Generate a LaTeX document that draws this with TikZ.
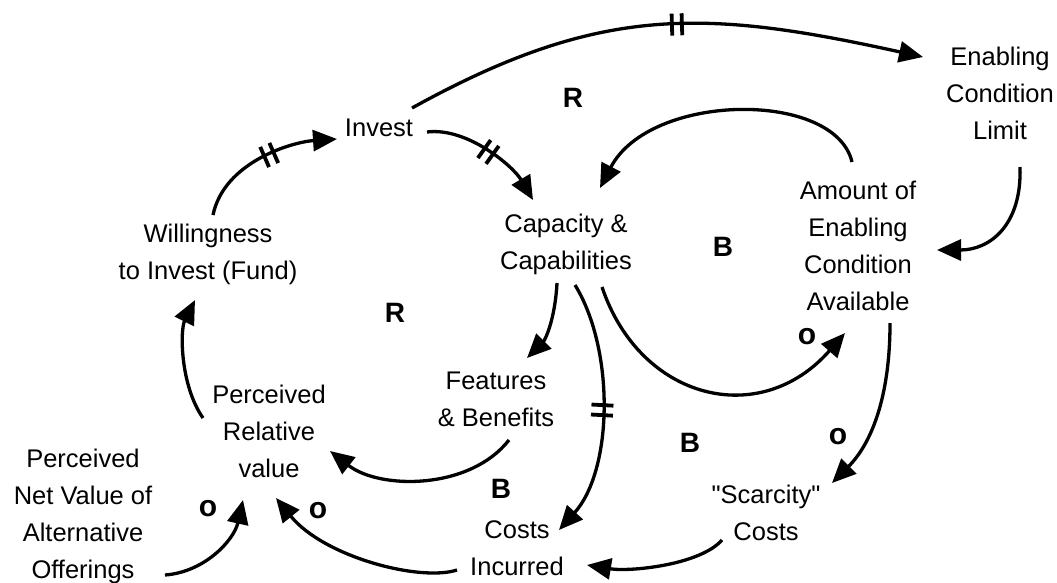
\documentclass[tikz,border=0pt]{standalone}
\usepackage{fontspec}
\setmainfont{Liberation Sans}[Ligatures=TeXOff]
\usetikzlibrary{arrows.meta,decorations.markings}
\tikzset{
  lbl/.style={align=center, inner sep=0pt, anchor=north, font=\fontsize{25.5}{37}\selectfont},
  loopname/.style={inner sep=0pt, font=\fontsize{28}{30}\selectfont\bfseries},
  polar/.style={inner sep=0pt, font=\fontsize{30}{32}\selectfont\bfseries},
  link/.style={line width=3.3pt, -{Triangle[length=24pt,width=21pt]}},
  delay at/.style={postaction={decorate, decoration={markings,
      mark=at position #1 with {\draw[line width=3.8pt,-] (-5,-11) -- (-5,11) (5,-11) -- (5,11);}}}},
}
\begin{document}
\begin{tikzpicture}[x=1pt,y=-1pt]
\useasboundingbox (0,0) rectangle (1057,582);
% variables
\node[lbl] (invest) at (379,119) {Invest};
\node[lbl] (will) at (208,224) {Willingness\\to Invest (Fund)};
\node[lbl] (cap) at (566,214) {Capacity \&\\Capabilities};
\node[lbl] (limit) at (1000,47) {Enabling\\Condition\\Limit};
\node[lbl] (amount) at (858,181) {Amount of\\Enabling\\Condition\\Available};
\node[lbl] (feat) at (496,372) {Features\\\& Benefits};
\node[lbl] (prv) at (269,385) {Perceived\\Relative\\value};
\node[lbl] (alt) at (83,449) {Perceived\\Net Value of\\Alternative\\Offerings};
\node[lbl] (costs) at (517,520) {Costs\\Incurred};
\node[lbl] (scar) at (766,485) {"Scarcity"\\Costs};
% loop and polarity labels
\node[loopname] (r1) at (573,98) {R};
\node[loopname] (r2) at (395,313) {R};
\node[loopname] (b1) at (723,247) {B};
\node[loopname] (b2) at (690,443) {B};
\node[loopname] (b3) at (501,489) {B};
\node[polar] (o1) at (807,337) {o};
\node[polar] (o2) at (838,437) {o};
\node[polar] (o3) at (208,509) {o};
\node[polar] (o4) at (318,511) {o};
% connectors
\draw[link, delay at=0.55] ([shift={(5,-9)}]will.north) .. controls ([shift={(16,-62)}]will.north) and ([shift={(-87,23)}]invest.north) .. ([shift={(-42,20)}]invest.north);
\draw[link, delay at=0.5] ([shift={(48,13)}]invest.north) .. controls ([shift={(88,8)}]invest.north) and ([shift={(-53,-48)}]cap.north) .. ([shift={(-33,-14)}]cap.north);
\draw[link, delay at=0.53] ([shift={(33,-11)}]invest.north) .. controls ([shift={(221,-115)}]invest.north) and ([shift={(-295,-38)}]limit.north) .. ([shift={(-77,10)}]limit.north);
\draw[link] ([shift={(-6,-19)}]amount.north) .. controls ([shift={(-23,-91)}]amount.north) and ([shift={(84,-122)}]cap.north) .. ([shift={(34,-26)}]cap.north);
\draw[link] ([shift={(20,120)}]limit.north) .. controls ([shift={(22,178)}]limit.north) and ([shift={(132,69)}]amount.north) .. ([shift={(79,69)}]amount.north);
\draw[link] ([shift={(-9,69)}]cap.north) .. controls ([shift={(-11,106)}]cap.north) and ([shift={(49,-32)}]feat.north) .. ([shift={(31,-14)}]feat.north);
\draw[link, delay at=0.5] ([shift={(9,71)}]cap.north) .. controls ([shift={(49,136)}]cap.north) and ([shift={(96,-50)}]costs.north) .. ([shift={(42,10)}]costs.north);
\draw[link] ([shift={(36,73)}]cap.north) .. controls ([shift={(74,186)}]cap.north) and ([shift={(-98,249)}]amount.north) .. ([shift={(-13,152)}]amount.north);
\draw[link] ([shift={(32,142)}]amount.north) .. controls ([shift={(32,219)}]amount.north) and ([shift={(104,-40)}]scar.north) .. ([shift={(66,-2)}]scar.north);
\draw[link] ([shift={(13,68)}]feat.north) .. controls ([shift={(-26,118)}]feat.north) and ([shift={(111,105)}]prv.north) .. ([shift={(61,66)}]prv.north);
\draw[link] ([shift={(-44,55)}]scar.north) .. controls ([shift={(-66,80)}]scar.north) and ([shift={(113,52)}]costs.north) .. ([shift={(70,45)}]costs.north);
\draw[link] ([shift={(-60,50)}]costs.north) .. controls ([shift={(-97,62)}]costs.north) and ([shift={(55,172)}]prv.north) .. ([shift={(7,113)}]prv.north);
\draw[link] ([shift={(82,126)}]alt.north) .. controls ([shift={(122,123)}]alt.north) and ([shift={(-35,155)}]prv.north) .. ([shift={(-26,115)}]prv.north);
\draw[link] ([shift={(-66,33)}]prv.north) .. controls ([shift={(-89,0)}]prv.north) and ([shift={(-28,106)}]will.north) .. ([shift={(-13,76)}]will.north);
\end{tikzpicture}
\end{document}
